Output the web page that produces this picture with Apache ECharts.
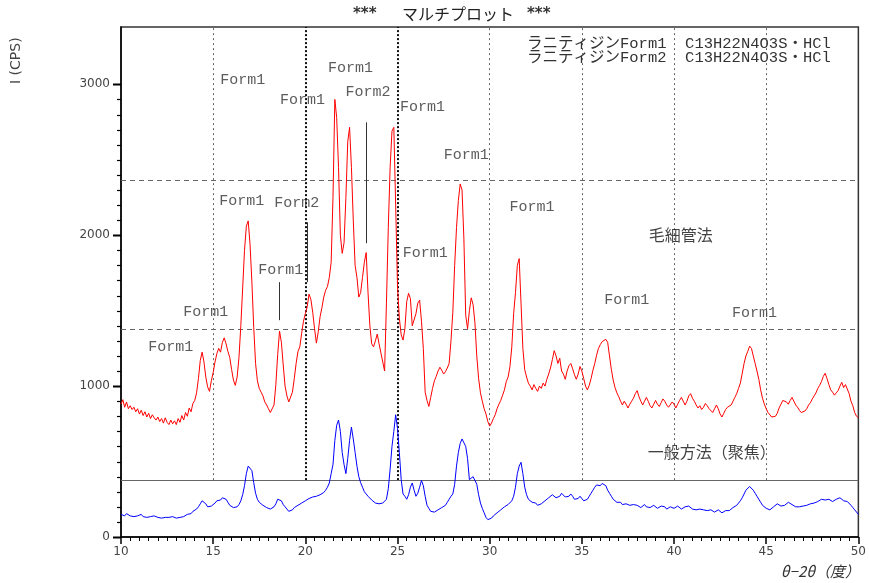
<!DOCTYPE html>
<html>
<head>
<meta charset="utf-8">
<script src="https://cdn.jsdelivr.net/npm/echarts@6/dist/echarts.min.js"></script>
<style>html,body{margin:0;padding:0;background:#fff;}#c{width:869px;height:583px;}</style>
</head>
<body>
<div id="c"></div>
<script>
// 2θ from 10.0 to 50.0 in 0.1° steps
const thetaStart = 10;
const thetaStepTenths = 1;

// 毛細管法 (red) intensity, CPS
const capillaryValues = [
  880, 910, 860, 895, 850, 870, 845, 860, 830, 850,
  815, 840, 805, 830, 795, 820, 785, 810, 790, 775,
  795, 765, 785, 755, 790, 760, 745, 775, 750, 770,
  745, 785, 760, 805, 775, 825, 800, 855, 830, 885,
  905, 955, 1050, 1170, 1225, 1160, 1060, 995, 965, 1035,
  1090, 1160, 1215, 1250, 1225, 1290, 1320, 1280, 1230, 1190,
  1110, 1040, 1005, 1060, 1190, 1400, 1650, 1900, 2060, 2095,
  1940, 1690, 1390, 1150, 1035, 985, 960, 935, 895, 875,
  850, 825, 815, 875, 1010, 1210, 1365, 1290, 1140, 1000,
  935, 895, 885, 960, 1050, 1150, 1230, 1260, 1350, 1430,
  1480, 1525, 1610, 1575, 1490, 1380, 1285, 1360, 1460, 1520,
  1590, 1635, 1660, 1720, 1820, 2250, 2900, 2780, 2450, 2000,
  1880, 1950, 2250, 2620, 2715, 2450, 2100, 1800, 1720, 1590,
  1620, 1720, 1820, 1885, 1620, 1400, 1280, 1260, 1300, 1345,
  1280, 1220, 1160, 1100, 1550, 2050, 2450, 2690, 2715, 2200,
  1660, 1450, 1340, 1305, 1380, 1560, 1615, 1580, 1400, 1390,
  1480, 1550, 1570, 1430, 1250, 960, 905, 865, 925, 985,
  1035, 1065, 1100, 1125, 1105, 1080, 1095, 1120, 1150, 1300,
  1490, 1800, 2050, 2230, 2340, 2300, 1980, 1470, 1380, 1500,
  1585, 1540, 1420, 1200, 1050, 955, 900, 850, 815, 765,
  735, 755, 785, 810, 850, 880, 905, 940, 975, 1030,
  1060, 1130, 1260, 1480, 1620, 1800, 1845, 1550, 1250, 1110,
  1060, 1020, 1000, 975, 1010, 985, 965, 1000, 985, 1020,
  1000, 1045, 1080, 1120, 1175, 1235, 1200, 1150, 1185, 1100,
  1080, 1045, 1100, 1135, 1150, 1115, 1075, 1045, 1080, 1130,
  1100, 1050, 1000, 975, 1005, 1050, 1105, 1150, 1205, 1250,
  1275, 1295, 1300, 1310, 1290, 1200, 1110, 1040, 990, 955,
  930, 900, 875, 900, 880, 855, 880, 900, 920, 950,
  970, 930, 900, 875, 900, 925, 900, 870, 855, 880,
  905, 880, 865, 890, 915, 900, 875, 860, 870, 895,
  880, 855, 880, 905, 925, 900, 875, 900, 935, 950,
  920, 900, 875, 855, 870, 845, 860, 885, 870, 850,
  840, 825, 850, 875, 850, 815, 795, 820, 845, 860,
  850, 875, 900, 925, 950, 985, 1020, 1085, 1150, 1200,
  1230, 1265, 1250, 1200, 1150, 1100, 1045, 975, 920, 880,
  850, 825, 815, 795, 785, 800, 820, 855, 880, 905,
  910, 895, 880, 905, 925, 900, 875, 860, 840, 825,
  820, 835, 850, 875, 890, 915, 935, 955, 985, 1005,
  1030, 1065, 1085, 1050, 1010, 975, 960, 940, 955, 970,
  1000, 1025, 990, 1010, 1000, 950, 900, 870, 825, 800,
  790
];

// 一般方法（聚焦） (blue) intensity, CPS
const focusingValues = [
  150, 160, 140, 155, 150, 140, 150, 135, 145, 140,
  140, 150, 135, 145, 130, 140, 135, 125, 140, 130,
  130, 140, 125, 135, 130, 120, 130, 125, 135, 130,
  125, 135, 130, 140, 135, 145, 150, 160, 155, 170,
  175, 185, 200, 220, 240, 235, 220, 200, 190, 205,
  210, 225, 240, 250, 245, 260, 265, 250, 230, 210,
  200, 195, 190, 200, 215, 240, 280, 340, 420, 470,
  480, 440, 360, 290, 250, 230, 220, 210, 200, 195,
  190, 185, 190, 200, 220, 250, 260, 240, 215, 200,
  190, 170, 160, 180, 195, 200, 210, 215, 225, 232,
  240, 250, 255, 260, 265, 262, 270, 275, 280, 285,
  295, 310, 330, 358, 420, 480, 640, 740, 775, 700,
  560, 480, 420, 520, 640, 728, 650, 560, 470, 400,
  360, 330, 300, 285, 270, 260, 245, 235, 225, 230,
  220, 230, 225, 220, 250, 320, 450, 600, 700, 810,
  720, 560, 380, 285, 270, 250, 280, 330, 358, 310,
  270, 290, 330, 375, 340, 270, 210, 190, 170, 160,
  165, 170, 180, 190, 195, 200, 210, 230, 250, 270,
  285, 350, 470, 560, 620, 650, 640, 600, 520, 380,
  385, 400, 395, 350, 280, 225, 190, 160, 130, 115,
  115, 125, 140, 150, 160, 170, 180, 190, 200, 210,
  215, 225, 240, 270, 330, 420, 470, 495, 420, 330,
  280, 250, 240, 230, 220, 225, 210, 215, 220, 230,
  240, 250, 260, 270, 280, 275, 260, 250, 270, 290,
  280, 265, 255, 270, 285, 270, 250, 240, 255, 270,
  260, 240, 230, 250, 270, 290, 310, 330, 345, 350,
  340, 355, 360, 340, 310, 290, 270, 250, 240, 230,
  220, 230, 215, 210, 220, 225, 210, 200, 215, 220,
  210, 200, 195, 205, 215, 200, 190, 195, 205, 210,
  200, 190, 195, 205, 210, 200, 185, 190, 200, 195,
  190, 200, 205, 195, 185, 190, 200, 210, 205, 195,
  185, 190, 180, 175, 185, 190, 180, 170, 175, 185,
  180, 170, 165, 175, 180, 170, 160, 165, 175, 180,
  175, 185, 195, 200, 210, 225, 240, 260, 285, 310,
  320, 335, 330, 310, 290, 270, 250, 230, 210, 200,
  190, 185, 180, 190, 200, 210, 220, 215, 205, 200,
  210, 220, 230, 225, 215, 205, 200, 195, 200, 210,
  205, 200, 210, 215, 220, 230, 225, 220, 235, 240,
  250, 255, 245, 240, 250, 245, 235, 240, 250, 255,
  260, 250, 240, 245, 235, 225, 210, 195, 180, 165,
  150
];

// axis ticks
const yMajorStep = 1000;
const yTickTop = 3000;
const yMinorStep = 100;

// guide lines (data units)
const lightGuideX = [15, 30, 35, 40, 45];
const boldGuideX = [20, 25];
const dashedGuideY = [2364, 1377];
const baseGuideY = 377;
const pointerLines = [[18.6, 1437, 1689], [20.12, 1689, 2086], [23.3, 1947, 2748]];

// annotations [text, 2θ, CPS]
const formLabels = [
  ['Form1', 16.6, 3026], ['Form1', 19.85, 2894], ['Form1', 22.45, 3106],
  ['Form2', 23.4, 2947], ['Form1', 26.35, 2848], ['Form1', 16.55, 2225],
  ['Form2', 19.53, 2212], ['Form1', 28.73, 2530], ['Form1', 32.3, 2185],
  ['Form1', 26.5, 1881], ['Form1', 18.66, 1768], ['Form1', 14.6, 1490],
  ['Form1', 12.7, 1258], ['Form1', 37.44, 1570], ['Form1', 44.37, 1483]
];
const methodLabels = [['毛細管法', 40.37, 2000], ['一般方法（聚焦）', 42.04, 563]];

const yMax = 3380;

function toPairs(vals) {
  return vals.map((v, i) => [(thetaStart * 10 + i * thetaStepTenths) / 10, v]);
}

const guideData = [];
lightGuideX.forEach(x => guideData.push([
  {coord: [x, baseGuideY], lineStyle: {color: '#666', type: [2, 3], width: 1}},
  {coord: [x, yMax]}]));
boldGuideX.forEach(x => guideData.push([
  {coord: [x, baseGuideY], lineStyle: {color: '#111', type: [2, 2], width: 2}},
  {coord: [x, yMax]}]));
dashedGuideY.forEach(y => guideData.push([
  {coord: [10, y], lineStyle: {color: '#666', type: [5, 4], width: 1}},
  {coord: [50, y]}]));
guideData.push([
  {coord: [10, baseGuideY], lineStyle: {color: '#666', type: 'solid', width: 1}},
  {coord: [50, baseGuideY]}]);
pointerLines.forEach(p => guideData.push([
  {coord: [p[0], p[1]], lineStyle: {color: '#333', type: 'solid', width: 1}},
  {coord: [p[0], p[2]]}]));

// y-axis tick values (major every 1000, minor every 100, up to 3000)
const yTickValues = [];
for (let v = 0; v <= yTickTop; v += yMinorStep) yTickValues.push(v);

const chart = echarts.init(document.getElementById('c'), null, {renderer: 'canvas'});
const monoFont = '"Liberation Mono", "Noto Sans CJK JP", monospace';
const cjkFont = '"Noto Sans CJK JP", sans-serif';

chart.setOption({
  animation: false,
  backgroundColor: '#fff',
  grid: {left: 121, right: 9, top: 27, bottom: 46, show: true, borderColor: '#333', borderWidth: 1.5, backgroundColor: 'transparent'},
  xAxis: {
    type: 'value', min: 10, max: 50, interval: 5,
    axisLine: {lineStyle: {color: '#000', width: 1.5}},
    axisTick: {length: 7, lineStyle: {color: '#000', width: 1.5}},
    minorTick: {show: true, splitNumber: 10, length: 4, lineStyle: {color: '#000', width: 1}},
    axisLabel: {color: '#444', fontSize: 12, fontFamily: 'DejaVu Sans', margin: 9},
    splitLine: {show: false}
  },
  yAxis: {
    type: 'value', min: 0, max: yMax, interval: yMajorStep,
    axisLine: {show: true, lineStyle: {color: '#000', width: 1.5}},
    axisTick: {show: false},
    axisLabel: {showMaxLabel: false, formatter: v => (v % yMajorStep === 0 ? String(v) : ''), color: '#444', fontSize: 12, fontFamily: 'DejaVu Sans', margin: 11},
    splitLine: {show: false}
  },
  series: [{
    type: 'line', name: '毛細管法', data: toPairs(capillaryValues), showSymbol: false,
    lineStyle: {color: '#ff0000', width: 1}, z: 3
  }, {
    type: 'line', name: '一般方法', data: toPairs(focusingValues), showSymbol: false,
    lineStyle: {color: '#0000ff', width: 1}, z: 3,
    markLine: {silent: true, symbol: 'none', label: {show: false}, data: guideData, z: 1}
  }, {
    type: 'scatter', data: formLabels.map(d => [d[1], d[2], d[0]]), symbolSize: 0, silent: true,
    label: {show: true, position: 'inside', formatter: p => p.data[2], color: '#333', fontSize: 15, fontFamily: monoFont}
  }, {
    type: 'scatter', data: methodLabels.map(d => [d[1], d[2], d[0]]), symbolSize: 0, silent: true,
    label: {show: true, position: 'inside', formatter: p => p.data[2], color: '#111', fontSize: 16, fontFamily: cjkFont}
  }, {
    // y-axis tick marks drawn as horizontal error-bar-like glyphs on the axis scale
    type: 'custom', silent: true, clip: false, z: 10,
    data: yTickValues.map(v => [10, v]),
    renderItem: (params, api) => {
      const pt = api.coord([api.value(0), api.value(1)]);
      const major = api.value(1) % yMajorStep === 0;
      const len = major ? 8 : 4;
      const y = Math.round(pt[1]) + 0.5;
      return {
        type: 'line',
        shape: {x1: pt[0] - len, y1: y, x2: pt[0], y2: y},
        style: {stroke: '#000', lineWidth: major ? 2 : 1.2}
      };
    }
  }],
  graphic: [
    {type: 'text', x: 353, y: 7, style: {text: '***', font: 'bold 15px "DejaVu Sans"', fill: '#333'}},
    {type: 'text', x: 402, y: 6, style: {text: 'マルチプロット', font: '16px ' + cjkFont, fill: '#222'}},
    {type: 'text', x: 527, y: 7, style: {text: '***', font: 'bold 15px "DejaVu Sans"', fill: '#333'}},
    {type: 'text', x: 527, y: 36, style: {text: 'ラニティジンForm1  C13H22N4O3S・HCl', font: '15.5px ' + monoFont, fill: '#333'}},
    {type: 'text', x: 527, y: 50, style: {text: 'ラニティジンForm2  C13H22N4O3S・HCl', font: '15.5px ' + monoFont, fill: '#333'}},
    {type: 'text', x: 9, y: 84, rotation: Math.PI / 2, style: {text: 'I (CPS)', font: '14px "DejaVu Sans"', fill: '#444'}},
    {type: 'text', right: 9, top: 564, style: {text: 'θ−2θ（度）', font: 'italic 15px ' + cjkFont, fill: '#333'}}
  ]
});
</script>
</body>
</html>
